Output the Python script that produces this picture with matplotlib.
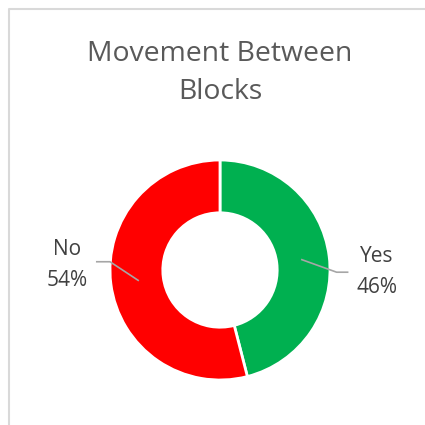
import matplotlib
matplotlib.use("Agg")
import matplotlib.pyplot as plt
import numpy as np
from matplotlib.lines import Line2D

title = "Movement Between\nBlocks"
categories = ["Yes", "No"]
values = [46, 54]
colors = ["#00B050", "#FF0000"]

plt.rcParams['font.family'] = ['Open Sans', 'DejaVu Sans']

W = H = 425
fig = plt.figure(figsize=(4.25, 4.25), dpi=100)
fig.patch.set_facecolor("white")

# chart-area border (top and left edges visible)
fig.add_artist(Line2D([9/W, 9/W, 1.0], [0.0, 1 - 9/H, 1 - 9/H],
                      transform=fig.transFigure, color="#D9D9D9", lw=1.5))

cx, cy, R = 220, 270, 110
ax = fig.add_axes([(cx - R)/W, (H - cy - R)/H, 2*R/W, 2*R/H])
wedges, _ = ax.pie(values, colors=colors, startangle=90, counterclock=False,
                   radius=1.0, wedgeprops=dict(width=0.48, edgecolor="white", linewidth=2))
ax.set_xlim(-1, 1)
ax.set_ylim(-1, 1)
ax.set_aspect("equal")
ax.axis("off")

total = sum(values)
cum = 0
for i, (cat, v) in enumerate(zip(categories, values)):
    mid = 90 - (cum + v/2) / total * 360
    cum += v
    a = np.deg2rad(mid)
    p0 = (0.75*np.cos(a), 0.75*np.sin(a))
    if np.cos(a) > 0:
        p1 = (1.06, -0.02)
        p2 = (1.16, -0.02)
        tx, ty = 1.427, -0.02
    else:
        p1 = (-1.0, 0.075)
        p2 = (-1.12, 0.075)
        tx, ty = -1.386, 0.045
    ax.plot([p0[0], p1[0], p2[0]], [p0[1], p1[1], p2[1]], color="#A6A6A6", lw=1.2,
            clip_on=False, zorder=5)
    ax.text(tx, ty, f"{cat}\n{v}%", ha="center", va="center",
            fontsize=15, color="#404040", linespacing=1.62, multialignment="center",
            clip_on=False)

fig.text(cx/W, 1 - 73/H, title, ha="center", va="center", fontsize=20.4,
         color="#595959", linespacing=1.45)

fig.savefig("out.png", dpi=100, facecolor="white")
